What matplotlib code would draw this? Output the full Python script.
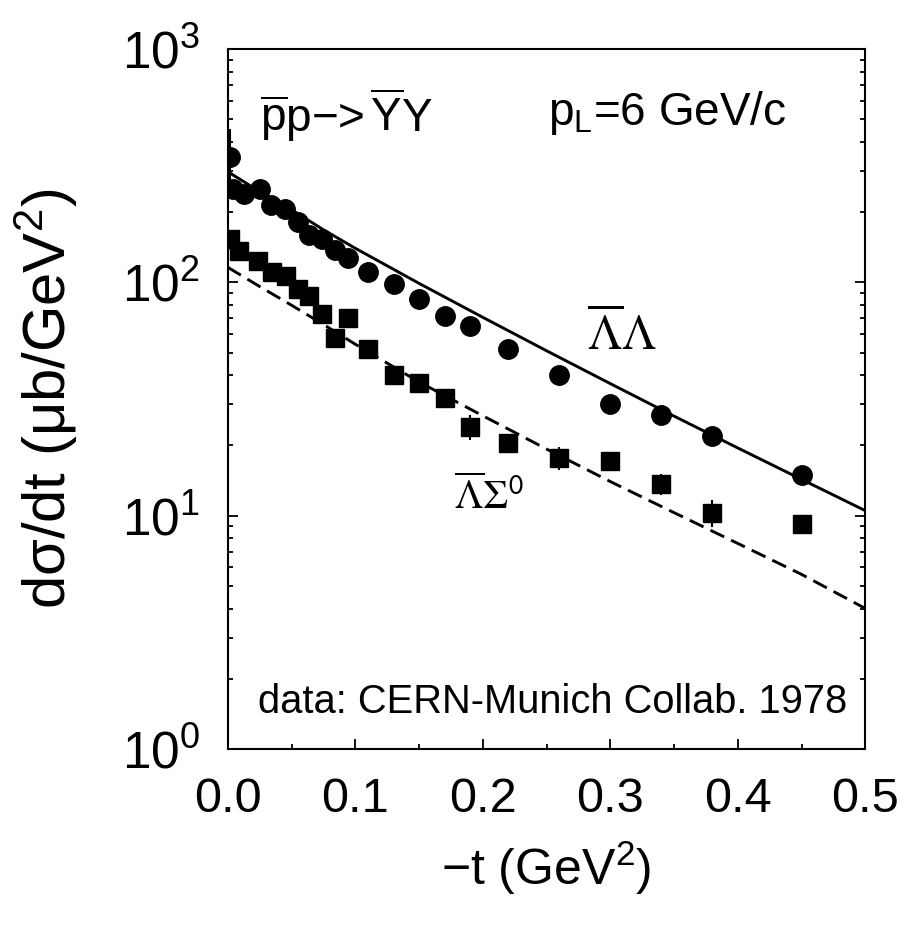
import numpy as np
import matplotlib
matplotlib.use("Agg")
import matplotlib.pyplot as plt
from matplotlib.ticker import FormatStrFormatter, MultipleLocator, LogLocator

plt.rcParams['font.family'] = ['Liberation Sans', 'DejaVu Sans']
plt.rcParams['mathtext.fontset'] = 'custom'
plt.rcParams['mathtext.rm'] = 'Liberation Sans'
plt.rcParams['mathtext.it'] = 'Liberation Sans:italic'
plt.rcParams['mathtext.bf'] = 'Liberation Sans:bold'
plt.rcParams['lines.scale_dashes'] = False

# LambdaBar Lambda data (circles)
t_ll = [0.002, 0.004, 0.013, 0.025, 0.034, 0.045, 0.055, 0.064, 0.074, 0.084, 0.094,
        0.11, 0.13, 0.15, 0.17, 0.19, 0.22, 0.26, 0.30, 0.34, 0.38, 0.45]
ds_ll = [345, 250, 238, 250, 215, 207, 182, 160, 153, 138, 127,
         111, 98, 85, 72, 65, 52, 40, 30, 27, 22, 15]
err_ll = [110, 0, 0, 0, 0, 0, 0, 0, 0, 0, 0,
          0, 0, 0, 0, 0, 0, 0, 0, 0, 0, 0]

# LambdaBar Sigma0 data (squares)
t_ls = [0.002, 0.009, 0.024, 0.035, 0.046, 0.055, 0.064, 0.074, 0.084, 0.094,
        0.11, 0.13, 0.15, 0.17, 0.19, 0.22, 0.26, 0.30, 0.34, 0.38, 0.45]
ds_ls = [153, 136, 123, 111, 106, 94, 87, 73, 58, 70,
         52, 40, 37, 32, 24, 20.5, 17.7, 17.2, 13.7, 10.3, 9.2]
err_ls = [0, 0, 0, 0, 0, 0, 0, 0, 0, 0,
          0, 0, 0, 0, 3, 0, 2, 0, 1.4, 1.4, 0]

# model curves
t_curve = [0.0, 0.025, 0.05, 0.075, 0.1, 0.15, 0.2, 0.25, 0.3, 0.35, 0.4, 0.45, 0.5]
ll_curve = [298, 245, 205, 168, 140, 99, 70.8, 50.9, 36.8, 26.7, 19.5, 14.3, 10.5]
ls_curve = [116, 96, 79.8, 66, 54.3, 37.4, 26.8, 19.3, 14.0, 10.3, 7.6, 5.6, 4.0]

fig = plt.figure(figsize=(9.11, 9.30), dpi=100)
ax = fig.add_axes([0.250, 0.1946, 0.700, 0.7527])

ax.plot(t_curve, ll_curve, '-', color='k', lw=2.1)
ax.plot(t_curve, ls_curve, '--', color='k', lw=2.1, dashes=(11, 5.5))

ax.errorbar(t_ll, ds_ll, yerr=err_ll, fmt='o', color='k', ms=14, elinewidth=1.5, capsize=0)
ax.errorbar(t_ls, ds_ls, yerr=err_ls, fmt='s', color='k', ms=13, elinewidth=1.5, capsize=0)

ax.set_yscale('log')
ax.set_xlim(0, 0.5)
ax.set_ylim(1, 1000)
ax.xaxis.set_major_locator(MultipleLocator(0.1))
ax.xaxis.set_minor_locator(MultipleLocator(0.05))
ax.xaxis.set_major_formatter(FormatStrFormatter('%.1f'))
ax.yaxis.set_minor_locator(LogLocator(base=10, subs=np.arange(2, 10)))

ax.tick_params(which='both', direction='in', right=True, top=False, width=1.3)
ax.tick_params(which='major', length=7)
ax.tick_params(which='minor', length=3.5)
ax.tick_params(axis='x', which='major', labelsize=35, pad=20)
ax.tick_params(axis='y', which='major', labelsize=37, pad=20)
for s in ax.spines.values():
    s.set_linewidth(1.5)

ax.set_ylabel('dσ/dt (μb/GeV$^2$)', fontsize=43)
ax.set_xlabel('−t (GeV$^2$)', fontsize=36)
ax.yaxis.set_label_coords(-0.232, 0.5)
ax.xaxis.set_label_coords(0.5, -0.128)

ax.text(0.05, 0.881,
        r'$\overline{\mathrm{p}}\mathrm{p}$−>$\,\overline{\mathrm{Y}}\mathrm{Y}$',
        transform=ax.transAxes, fontsize=33, va='baseline', ha='left')
ax.text(0.502, 0.891, r'p$_\mathrm{L}$=6 GeV/c', transform=ax.transAxes,
        fontsize=33, va='baseline', ha='left')
ax.text(0.564, 0.57, r'$\overline{\Lambda}\Lambda$', transform=ax.transAxes,
        fontsize=35, va='baseline', ha='left', math_fontfamily='stix')
ax.text(0.355, 0.343, r'$\overline{\Lambda}\Sigma^{\mathsf{0}}$', transform=ax.transAxes,
        fontsize=29, va='baseline', ha='left', math_fontfamily='stix')
ax.text(0.047, 0.051, 'data: CERN-Munich Collab. 1978', transform=ax.transAxes,
        fontsize=28.7, va='baseline', ha='left')

fig.savefig('out.png', dpi=100)
